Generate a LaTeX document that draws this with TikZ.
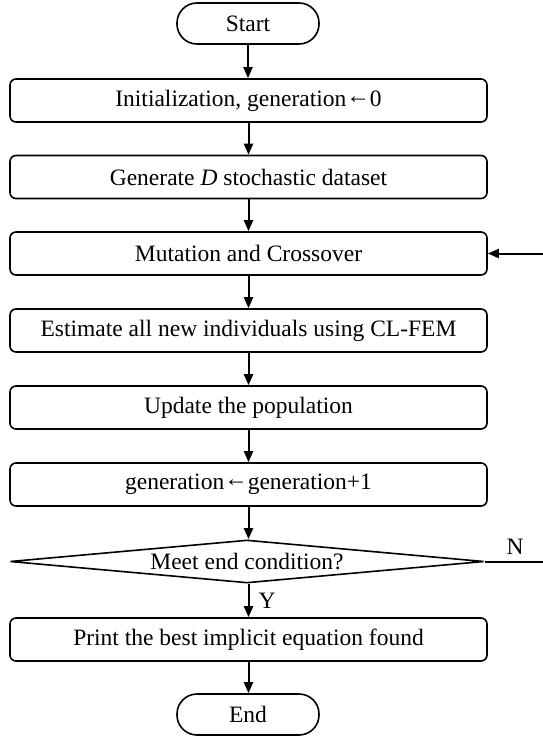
\documentclass[tikz,border=0pt]{standalone}
\usepackage{fontspec}
\setmainfont{Liberation Serif}
\usetikzlibrary{shapes.geometric,arrows.meta}
\newcommand{\larr}{\raisebox{0.12em}{←}}
\begin{document}
\begin{tikzpicture}[x=1pt,y=-1pt,
  txt/.style={font=\fontsize{23.5}{27}\selectfont},
  procbox/.style={txt,draw,line width=1.6pt,rounded corners=6pt,minimum width=477pt,minimum height=43pt,inner sep=0pt},
  termbox/.style={txt,draw,line width=1.6pt,rounded corners=20pt,minimum width=142pt,minimum height=41pt,inner sep=0pt},
  decbox/.style={txt,draw,diamond,aspect=11,line width=1.6pt,minimum width=474pt,minimum height=43pt,inner sep=0pt},
  flow/.style={line width=2pt,-{Triangle[length=11pt,width=9pt]}},
  lbl/.style={txt,inner sep=0pt}
]
\useasboundingbox (0,0) rectangle (543,736);
\node[termbox] (start) at (248,23.5) {Start};
\node[procbox] (b1) at (248.5,100.5) {Initialization, generation\larr0};
\node[procbox] (b2) at (248.5,177) {Generate \textit{D} stochastic dataset};
\node[procbox] (b3) at (248.5,253.5) {Mutation and Crossover};
\node[procbox] (b4) at (248.5,330.5) {Estimate all new individuals using CL-FEM};
\node[procbox] (b5) at (248.5,407.5) {Update the population};
\node[procbox] (b6) at (248.5,484.5) {generation\larr generation+1};
\node[decbox] (d) at (247,561.5) {Meet end condition?};
\node[procbox] (b7) at (248.5,639.5) {Print the best implicit equation found};
\node[termbox] (end) at (248,714.5) {End};
\coordinate (nr) at (560,561.5);
\coordinate (mr) at (560,253.5);
\draw[flow] (start) -- (start|-b1.north);
\draw[flow] (b1) -- (b1|-b2.north);
\draw[flow] (b2) -- (b2|-b3.north);
\draw[flow] (b3) -- (b3|-b4.north);
\draw[flow] (b4) -- (b4|-b5.north);
\draw[flow] (b5) -- (b5|-b6.north);
\draw[flow] (b6.south) -- (b6.south|-d.north);
\draw[flow] (d.south-|b7) -- (b7.north);
\draw[flow] (b7) -- (b7|-end.north);
\draw[line width=2pt] (d.east) -- (nr) -- (mr);
\draw[flow] (mr) -- (b3.east);
\node[lbl] (nl) at (515,547) {N};
\node[lbl] (yl) at (267,601) {Y};
\end{tikzpicture}
\end{document}
